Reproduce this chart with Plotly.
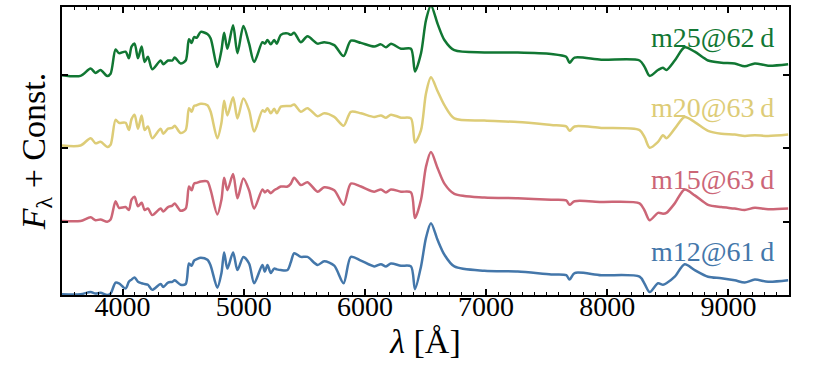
import plotly.graph_objects as go

# wavelength grid (Angstrom) shared by the four model spectra
wave = [3500, 3653, 3736, 3777, 3818, 3873, 3901, 3942, 3970, 4025,
        4052, 4074, 4099, 4127, 4157, 4182, 4209, 4245, 4314, 4336,
        4375, 4411, 4430, 4479, 4521, 4548, 4570, 4590, 4612, 4645,
        4700, 4727, 4782, 4816, 4838, 4865, 4912, 4948, 4997, 5044,
        5086, 5154, 5174, 5196, 5223, 5251, 5273, 5306, 5361, 5389,
        5416, 5471, 5526, 5609, 5664, 5747, 5824, 5884, 5967, 6077,
        6132, 6174, 6215, 6298, 6380, 6413, 6463, 6504, 6545, 6600,
        6656, 6738, 6986, 7262, 7537, 7661, 7689, 7730, 7950, 8267,
        8309, 8350, 8419, 8460, 8488, 8557, 8639, 8722, 8832, 8942,
        9052, 9135, 9218, 9328, 9493]

flux_m12 = [0.01, 0.01, 0.04, 0.02, 0.03, 0.00, 0.02, 0.17, 0.16, 0.09,
            0.18, 0.21, 0.24, 0.18, 0.16, 0.15, 0.14, 0.07, 0.15, 0.11,
            0.17, 0.18, 0.20, 0.14, 0.15, 0.43, 0.40, 0.47, 0.49, 0.51,
            0.48, 0.40, 0.10, 0.30, 0.58, 0.36, 0.58, 0.34, 0.52, 0.43,
            0.16, 0.41, 0.32, 0.41, 0.30, 0.36, 0.35, 0.34, 0.34, 0.45,
            0.57, 0.52, 0.52, 0.41, 0.46, 0.40, 0.16, 0.52, 0.47, 0.39,
            0.42, 0.39, 0.43, 0.40, 0.39, 0.08, 0.39, 0.78, 0.98, 0.75,
            0.55, 0.39, 0.33, 0.32, 0.28, 0.27, 0.21, 0.30, 0.27, 0.25,
            0.15, 0.04, 0.16, 0.14, 0.16, 0.25, 0.42, 0.34, 0.25, 0.23,
            0.20, 0.17, 0.21, 0.18, 0.20]

flux_m15 = [0.01, 0.01, 0.06, 0.02, 0.03, 0.00, 0.03, 0.28, 0.19, 0.20,
            0.16, 0.30, 0.34, 0.21, 0.26, 0.16, 0.18, 0.09, 0.18, 0.14,
            0.20, 0.22, 0.25, 0.15, 0.18, 0.48, 0.43, 0.52, 0.53, 0.55,
            0.55, 0.43, 0.10, 0.30, 0.60, 0.43, 0.65, 0.32, 0.59, 0.43,
            0.18, 0.44, 0.40, 0.43, 0.39, 0.43, 0.45, 0.48, 0.48, 0.52,
            0.60, 0.50, 0.54, 0.41, 0.47, 0.43, 0.23, 0.52, 0.48, 0.41,
            0.44, 0.40, 0.44, 0.41, 0.40, 0.05, 0.30, 0.75, 0.95, 0.73,
            0.52, 0.38, 0.33, 0.32, 0.30, 0.29, 0.23, 0.28, 0.27, 0.25,
            0.15, 0.02, 0.12, 0.11, 0.12, 0.25, 0.44, 0.36, 0.23, 0.20,
            0.18, 0.16, 0.19, 0.17, 0.18]

flux_m20 = [0.04, 0.04, 0.14, 0.07, 0.09, 0.02, 0.05, 0.39, 0.35, 0.35,
            0.25, 0.40, 0.46, 0.27, 0.45, 0.25, 0.30, 0.14, 0.27, 0.20,
            0.27, 0.28, 0.31, 0.21, 0.25, 0.55, 0.50, 0.58, 0.59, 0.61,
            0.59, 0.50, 0.14, 0.35, 0.65, 0.45, 0.70, 0.41, 0.68, 0.52,
            0.23, 0.52, 0.50, 0.55, 0.48, 0.54, 0.48, 0.57, 0.58, 0.58,
            0.60, 0.50, 0.55, 0.44, 0.48, 0.43, 0.31, 0.50, 0.48, 0.43,
            0.45, 0.42, 0.46, 0.42, 0.41, 0.08, 0.25, 0.75, 0.97, 0.78,
            0.59, 0.41, 0.38, 0.36, 0.32, 0.30, 0.24, 0.30, 0.28, 0.25,
            0.15, 0.01, 0.09, 0.18, 0.14, 0.27, 0.43, 0.36, 0.24, 0.20,
            0.19, 0.17, 0.18, 0.17, 0.19]

flux_m25 = [0.00, -0.01, 0.09, 0.03, 0.07, -0.01, 0.02, 0.35, 0.30, 0.32,
            0.23, 0.39, 0.43, 0.23, 0.39, 0.18, 0.25, 0.08, 0.20, 0.15,
            0.20, 0.20, 0.24, 0.16, 0.20, 0.49, 0.44, 0.52, 0.51, 0.59,
            0.56, 0.50, 0.11, 0.34, 0.58, 0.36, 0.68, 0.30, 0.67, 0.43,
            0.18, 0.45, 0.43, 0.48, 0.42, 0.48, 0.43, 0.55, 0.57, 0.55,
            0.58, 0.45, 0.53, 0.43, 0.45, 0.41, 0.26, 0.47, 0.44, 0.39,
            0.42, 0.38, 0.43, 0.36, 0.36, 0.05, 0.30, 0.75, 0.95, 0.70,
            0.48, 0.34, 0.31, 0.31, 0.29, 0.25, 0.17, 0.24, 0.21, 0.20,
            0.11, -0.01, 0.07, 0.10, 0.07, 0.20, 0.38, 0.32, 0.20, 0.17,
            0.16, 0.12, 0.16, 0.13, 0.15]

labels = ["m12@61\u2009d", "m15@63\u2009d", "m20@63\u2009d", "m25@62\u2009d"]
offsets = [0, 1, 2, 3]
colors = ["#4477AA", "#CC6677", "#DDCC77", "#117733"]
label_y = [0.59, 1.57, 2.56, 3.52]

FONT = "Liberation Serif"

fig = go.Figure()
for flux, off, col, lab, ly in zip([flux_m12, flux_m15, flux_m20, flux_m25],
                                   offsets, colors, labels, label_y):
    fig.add_trace(go.Scatter(
        x=wave, y=[f + off for f in flux], mode="lines",
        line=dict(color=col, width=2.5, shape="spline", smoothing=0.8),
        showlegend=False, hoverinfo="skip"))
    fig.add_annotation(x=9396, y=ly, text=lab, showarrow=False,
                       xanchor="right", yanchor="middle",
                       font=dict(family=FONT, size=28, color=col))

fig.update_layout(
    width=830, height=369,
    margin=dict(l=62, r=41, t=7, b=74),
    plot_bgcolor="white", paper_bgcolor="white",
    font=dict(family=FONT, size=28, color="black"),
    xaxis=dict(
        range=[3500, 9500], dtick=1000, tick0=0, automargin=False,
        ticks="inside", ticklen=6, tickwidth=1.5, tickcolor="black",
        minor=dict(ticks="inside", dtick=100, ticklen=3, tickwidth=1, tickcolor="black"),
        showline=True, linewidth=2, linecolor="black", mirror="allticks",
        showgrid=False, zeroline=False, ticklabelstandoff=-15,
        title=dict(text="<i>λ</i> [Å]", standoff=9),
    ),
    yaxis=dict(
        range=[0, 3.93], dtick=1, tick0=0, automargin=False,
        ticks="inside", ticklen=6, tickwidth=1.5, tickcolor="black",
        showticklabels=False,
        showline=True, linewidth=2, linecolor="black", mirror="allticks",
        showgrid=False, zeroline=False,
        title=dict(text="<i>F</i><sub>λ</sub> + Const.", standoff=4),
    ),
)

fig.write_html("out.html", config={"displayModeBar": False},
               post_script="document.body.style.margin='0';")
